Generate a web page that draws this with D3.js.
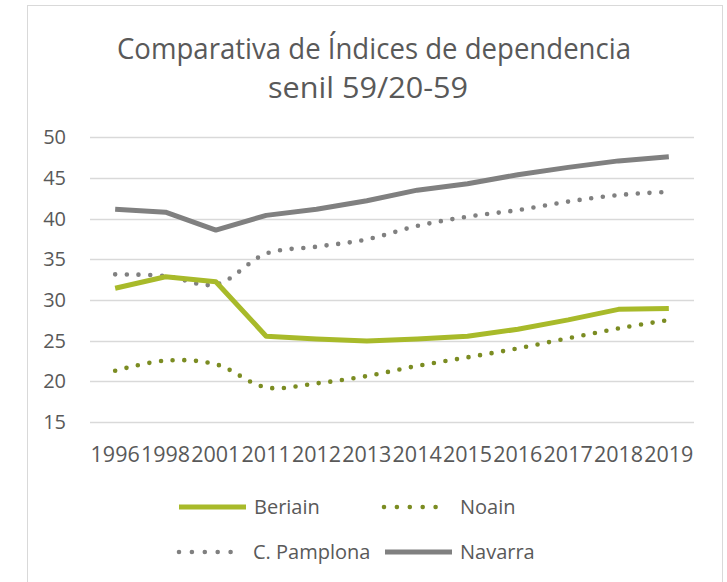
<html>
  <head>
    <meta charset="utf-8">
    <title>Comparativa de Índices de dependencia senil</title>
    <style>
      body { margin: 0; background: white; }
      text { font-family: "Open Sans", sans-serif; fill: #595959; }
    </style>
  </head>
  <body>
    <script src="https://d3js.org/d3.v7.min.js"></script>
    <script>

    // data
    var years = ["1996", "1998", "2001", "2011", "2012", "2013", "2014", "2015", "2016", "2017", "2018", "2019"];
    var beriain   = [31.45, 32.85, 32.25, 25.55, 25.2, 24.95, 25.2, 25.55, 26.4, 27.55, 28.85, 28.95];
    var noain     = [21.3, 22.55, 22.1, 19.25, 19.75, 20.65, 21.9, 22.95, 24.05, 25.3, 26.5, 27.55];
    var pamplona  = [33.15, 32.95, 31.9, 35.7, 36.55, 37.45, 39.1, 40.25, 41.05, 42.1, 42.9, 43.3];
    var navarra   = [41.15, 40.8, 38.6, 40.4, 41.15, 42.2, 43.5, 44.3, 45.4, 46.3, 47.1, 47.6];
    var yTicks = [15, 20, 25, 30, 35, 40, 45, 50];

    var series = [
      {name: "Beriain",     values: beriain,  color: "#a8ba2a", dotted: false},
      {name: "Noain",       values: noain,    color: "#7b8c22", dotted: true},
      {name: "C. Pamplona", values: pamplona, color: "#808080", dotted: true},
      {name: "Navarra",     values: navarra,  color: "#808080", dotted: false}
    ];

    var w = 727;
    var h = 582;

    var svg = d3.select("body")
                .append("svg")
                .attr("width", w)
                .attr("height", h);

    // chart frame
    svg.append("rect")
       .attr("x", 27.5)
       .attr("y", 5.5)
       .attr("width", 695)
       .attr("height", 590)
       .attr("fill", "white")
       .attr("stroke", "#d9d9d9");

    // title
    var title = svg.append("text")
       .attr("text-anchor", "middle")
       .style("font-size", "29px");
    title.append("tspan")
       .attr("x", 374).attr("y", 59)
       .attr("textLength", 514)
       .attr("lengthAdjust", "spacingAndGlyphs")
       .text("Comparativa de Índices de dependencia");
    title.append("tspan")
       .attr("x", 368).attr("y", 98)
       .attr("textLength", 200)
       .attr("lengthAdjust", "spacingAndGlyphs")
       .text("senil 59/20-59");

    var x = d3.scaleBand()
              .domain(years)
              .range([90, 694])
              .padding(0);

    var y = d3.scaleLinear()
              .domain([15, 50])
              .range([422, 137.3]);

    // gridlines
    svg.append("g")
       .selectAll("line")
       .data(yTicks)
       .enter()
       .append("line")
         .attr("x1", 90)
         .attr("x2", 694)
         .attr("y1", function(d) { return Math.round(y(d)) + 0.5; })
         .attr("y2", function(d) { return Math.round(y(d)) + 0.5; })
         .attr("stroke", "#d9d9d9")
         .attr("stroke-width", 1.5);

    // y axis labels
    var yAxis = d3.axisLeft(y).tickValues(yTicks).tickSize(0).tickPadding(24);
    var gy = svg.append("g")
       .attr("transform", "translate(90,0)")
       .call(yAxis);
    gy.select(".domain").remove();
    gy.selectAll("text")
      .style("font-size", "20px")
      .style("font-family", "Open Sans")
      .attr("fill", "#595959");

    // x axis labels (crowded, they run into each other like in the original)
    var xAxis = d3.axisBottom(x).tickSize(0).tickPadding(0);
    var gx = svg.append("g")
       .attr("transform", "translate(0,422)")
       .call(xAxis);
    gx.select(".domain").remove();
    gx.selectAll("text")
      .attr("dy", null)
      .attr("y", 40)
      .style("font-size", "21.5px")
      .style("font-family", "Open Sans")
      .attr("fill", "#595959");

    var straight = d3.line()
        .x(function(d, i) { return x(years[i]) + x.bandwidth() / 2; })
        .y(function(d) { return y(d); });

    var smooth = d3.line()
        .x(function(d, i) { return x(years[i]) + x.bandwidth() / 2; })
        .y(function(d) { return y(d); })
        .curve(d3.curveCatmullRom.alpha(0.5));

    // draw in reverse so Beriain sits on top
    svg.append("g")
       .selectAll("path")
       .data(series.slice().reverse())
       .enter()
       .append("path")
         .attr("d", function(d) { return d.dotted ? smooth(d.values) : straight(d.values); })
         .attr("fill", "none")
         .attr("stroke", function(d) { return d.color; })
         .attr("stroke-width", function(d) { return d.dotted ? 4.6 : 5; })
         .attr("stroke-linecap", function(d) { return d.dotted ? "round" : "butt"; })
         .attr("stroke-linejoin", "round")
         .attr("stroke-dasharray", function(d) { return d.dotted ? "0 11.7" : null; });

    // legend
    var legendPos = [
      {lx: 179, tx: 254, ly: 507},
      {lx: 382, tx: 460, ly: 507},
      {lx: 177, tx: 253, ly: 552},
      {lx: 385, tx: 460, ly: 552}
    ];

    var legend = svg.append("g")
       .selectAll("g")
       .data(series)
       .enter()
       .append("g");

    legend.append("line")
       .attr("x1", function(d, i) { return legendPos[i].lx + (d.dotted ? 2 : 0); })
       .attr("x2", function(d, i) { return legendPos[i].lx + (d.dotted ? 66 : 67); })
       .attr("y1", function(d, i) { return legendPos[i].ly; })
       .attr("y2", function(d, i) { return legendPos[i].ly; })
       .attr("stroke", function(d) { return d.color; })
       .attr("stroke-width", function(d) { return d.dotted ? 4.6 : 5; })
       .attr("stroke-linecap", function(d) { return d.dotted ? "round" : "butt"; })
       .attr("stroke-dasharray", function(d) { return d.dotted ? "0 12.9" : null; });

    legend.append("text")
       .attr("x", function(d, i) { return legendPos[i].tx; })
       .attr("y", function(d, i) { return legendPos[i].ly + 7; })
       .style("font-size", "20px")
       .text(function(d) { return d.name; });

    </script>
  </body>
</html>
